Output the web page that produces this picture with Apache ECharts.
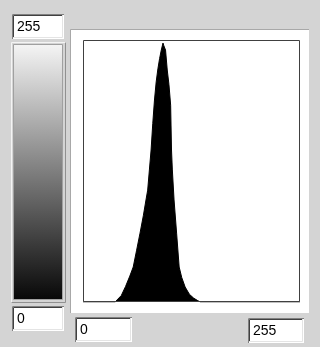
<!DOCTYPE html>
<html>
<head>
<meta charset="utf-8">
<script src="https://cdn.jsdelivr.net/npm/echarts@6/dist/echarts.min.js"></script>
<style>
  html, body { margin: 0; padding: 0; background: #d4d4d4; }
  #chart { width: 320px; height: 347px; }
</style>
</head>
<body>
<div id="chart"></div>
<script>
// Grey-level histogram: [grey level, pixel count]
const greyLevels = [0, 38, 40, 45, 50, 55, 59, 63, 67, 71, 74, 76, 78, 80, 82, 84, 86, 88, 90, 92, 94, 95, 97, 99, 101, 103, 104, 105, 107, 110, 113, 116, 120, 125, 130, 135, 138, 255];
const pixelCounts = [0, 0, 8, 25, 60, 100, 135, 200, 266, 335, 394, 432, 510, 587, 690, 780, 850, 900, 940, 973, 1000, 990, 973, 896, 840, 760, 587, 510, 394, 266, 135, 95, 58, 30, 15, 5, 0, 0];
// Range labels: grey ramp (top, bottom) and histogram axis (min, max)
const rampLabels = ['255', '0'];
const axisLabels = ['0', '255'];

const FONT = '14px "Liberation Sans", Arial, sans-serif';

function sunkenBox(x, y, w, h, label) {
  return {
    type: 'group',
    z: 5,
    children: [
      { type: 'rect', shape: { x: x, y: y, width: w, height: h }, style: { fill: '#ffffff' } },
      { type: 'polyline', shape: { points: [[x + 0.5, y + h], [x + 0.5, y + 0.5], [x + w, y + 0.5]] }, style: { stroke: '#808080', lineWidth: 1, fill: null } },
      { type: 'polyline', shape: { points: [[x + 1.5, y + h - 1], [x + 1.5, y + 1.5], [x + w - 1, y + 1.5]] }, style: { stroke: '#404040', lineWidth: 1, fill: null } },
      { type: 'polyline', shape: { points: [[x + 1, y + h - 1.5], [x + w - 1.5, y + h - 1.5], [x + w - 1.5, y + 1]] }, style: { stroke: '#e4e4e4', lineWidth: 1, fill: null } },
      { type: 'text', x: x + 5, y: y + h / 2 + 1, style: { text: label, font: FONT, fill: '#000000', textVerticalAlign: 'middle', verticalAlign: 'middle' } }
    ]
  };
}

const chart = echarts.init(document.getElementById('chart'), null, { renderer: 'canvas' });

chart.setOption({
  backgroundColor: '#d4d4d4',
  animation: false,
  grid: { left: 83, right: 20, top: 41, bottom: 45, show: false },
  xAxis: { type: 'value', min: 0, max: 255, show: false },
  yAxis: { type: 'value', min: 0, max: 1008, show: false },
  graphic: { elements: [
    // white panel behind the histogram
    { type: 'rect', z: 0, shape: { x: 70, y: 30, width: 239, height: 283 }, style: { fill: '#ffffff' } },
    { type: 'polyline', z: 0, shape: { points: [[70.5, 313], [70.5, 29.5], [309, 29.5]] }, style: { stroke: '#a8a8a8', lineWidth: 1, fill: null } },
    // histogram frame
    { type: 'rect', z: 10, shape: { x: 83.5, y: 40.5, width: 216, height: 261 }, style: { fill: null, stroke: '#404040', lineWidth: 1 } },
    // grey ramp, raised frame
    { type: 'rect', z: 1, shape: { x: 11, y: 42, width: 55, height: 261 }, style: { fill: '#d4d4d4' } },
    { type: 'polyline', z: 2, shape: { points: [[11.5, 303], [11.5, 42.5], [66, 42.5]] }, style: { stroke: '#f4f4f4', lineWidth: 1, fill: null } },
    { type: 'polyline', z: 2, shape: { points: [[11.5, 302.5], [65.5, 302.5], [65.5, 42.5]] }, style: { stroke: '#909090', lineWidth: 1, fill: null } },
    { type: 'rect', z: 2, shape: { x: 14, y: 45, width: 48, height: 254 },
      style: { fill: new echarts.graphic.LinearGradient(0, 0, 0, 1, [
        { offset: 0, color: '#f4f4f4' },
        { offset: 1, color: '#080808' }
      ]) } },
    { type: 'rect', z: 3, shape: { x: 13.5, y: 44.5, width: 49, height: 255 }, style: { fill: null, stroke: '#a0a0a0', lineWidth: 1 } },
    sunkenBox(12, 14, 52, 25, rampLabels[0]),
    sunkenBox(12, 306, 52, 25, rampLabels[1]),
    sunkenBox(75, 317, 57, 25, axisLabels[0]),
    sunkenBox(248, 318, 56, 25, axisLabels[1])
  ] },
  series: [{
    type: 'line',
    z: 5,
    data: greyLevels.map((g, i) => [g, pixelCounts[i]]),
    showSymbol: false,
    symbol: 'none',
    lineStyle: { color: '#000000', width: 1 },
    areaStyle: { color: '#000000', opacity: 1 },
    silent: true
  }]
});
</script>
</body>
</html>
